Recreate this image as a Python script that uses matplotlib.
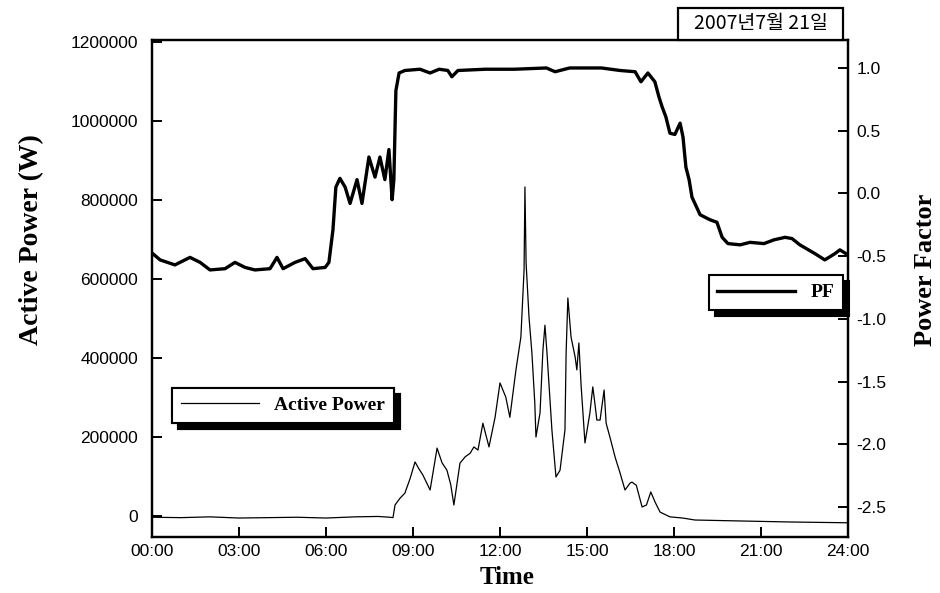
import matplotlib
matplotlib.use("Agg")
import matplotlib.pyplot as plt
from matplotlib.patches import Rectangle

# Active power (W) vs time (hours)
ap_hours = [0, 1, 2, 3, 4, 5, 6, 7, 7.8, 8.2, 8.31, 8.38, 8.55, 8.72, 8.9, 9.07, 9.2, 9.34,
            9.59, 9.83, 10.0, 10.17, 10.3, 10.41, 10.62, 10.8, 10.97, 11.1, 11.24, 11.41,
            11.62, 11.83, 12.0, 12.2, 12.34, 12.55, 12.72, 12.83, 12.86, 12.9, 13.0, 13.1,
            13.2, 13.24, 13.38, 13.48, 13.55, 13.62, 13.79, 13.93, 14.07, 14.24, 14.28,
            14.34, 14.45, 14.59, 14.65, 14.72, 14.8, 14.93, 15.1, 15.2, 15.27, 15.34, 15.45,
            15.59, 15.66, 15.79, 15.97, 16.14, 16.31, 16.48, 16.55, 16.7, 16.9, 17.05, 17.2,
            17.35, 17.52, 17.86, 18.3, 18.72, 20, 22, 24]
ap_values = [-3000, -4000, -2000, -5000, -4000, -3000, -5000, -2000, -1000, -3000, -4000,
             28000, 45000, 58000, 95000, 137000, 120000, 104000, 66000, 172000, 135000,
             116000, 80000, 28000, 134000, 150000, 159000, 175000, 167000, 235000, 175000,
             250000, 337000, 301000, 250000, 370000, 453000, 623000, 833000, 640000, 504000,
             413000, 286000, 200000, 261000, 420000, 483000, 413000, 218000, 99000, 116000,
             218000, 413000, 552000, 453000, 403000, 370000, 438000, 327000, 185000, 261000,
             327000, 286000, 243000, 243000, 319000, 235000, 200000, 149000, 109000, 66000,
             83000, 86000, 78000, 23000, 28000, 61000, 35000, 10000, -2000, -5000, -10000,
             -12000, -15000, -17000]

# Power factor vs time (hours)
pf_hours = [0, 0.28, 0.79, 1.31, 1.66, 2.0, 2.52, 2.86, 3.21, 3.55, 4.07, 4.31, 4.52, 4.93,
            5.28, 5.55, 5.97, 6.1, 6.24, 6.34, 6.48, 6.66, 6.83, 7.07, 7.24, 7.48, 7.69,
            7.86, 8.03, 8.17, 8.28, 8.34, 8.41, 8.52, 8.72, 9.24, 9.59, 9.9, 10.2, 10.34,
            10.55, 11.5, 12.5, 13.6, 13.9, 14.4, 15.5, 16.14, 16.66, 16.86, 17.1, 17.34,
            17.48, 17.59, 17.72, 17.86, 18.03, 18.21, 18.31, 18.41, 18.52, 18.62, 18.72,
            18.9, 19.24, 19.48, 19.66, 19.86, 20.28, 20.62, 21.1, 21.45, 21.83, 22.07,
            22.34, 22.86, 23.2, 23.55, 23.72, 24]
pf_values = [-0.475, -0.53, -0.57, -0.51, -0.55, -0.61, -0.60, -0.55, -0.59, -0.61, -0.60,
             -0.51, -0.60, -0.55, -0.52, -0.60, -0.59, -0.55, -0.29, 0.05, 0.12, 0.05,
             -0.08, 0.11, -0.08, 0.29, 0.13, 0.29, 0.11, 0.35, -0.05, 0.11, 0.82, 0.96,
             0.98, 0.99, 0.96, 0.99, 0.98, 0.93, 0.98, 0.99, 0.99, 1.0, 0.97, 1.0, 1.0,
             0.98, 0.97, 0.89, 0.96, 0.89, 0.77, 0.69, 0.61, 0.48, 0.47, 0.56, 0.45, 0.21,
             0.11, -0.03, -0.08, -0.17, -0.21, -0.23, -0.35, -0.40, -0.41, -0.39, -0.40,
             -0.37, -0.35, -0.36, -0.41, -0.48, -0.53, -0.48, -0.45, -0.49]

x_ticks = [0, 3, 6, 9, 12, 15, 18, 21, 24]
x_tick_labels = ["00:00", "03:00", "06:00", "09:00", "12:00", "15:00", "18:00", "21:00", "24:00"]
ap_ticks = [0, 200000, 400000, 600000, 800000, 1000000, 1200000]
pf_ticks = [-2.5, -2.0, -1.5, -1.0, -0.5, 0.0, 0.5, 1.0]

title_text = "2007년7월 21일"

SERIF = ["Liberation Serif", "DejaVu Serif"]
SANS = ["Liberation Sans", "DejaVu Sans"]

W, H = 940, 593
fig = plt.figure(figsize=(W / 100, H / 100), dpi=100)
ax = fig.add_axes([152 / W, 1 - 537 / H, 696 / W, 497 / H])
ax2 = ax.twinx()

l1, = ax.plot(ap_hours, ap_values, color="black", lw=0.9, label="Active Power")
l2, = ax2.plot(pf_hours, pf_values, color="black", lw=2.4, label="PF")

ax.set_xlim(0, 24)
ax.set_ylim(-53000, 1205000)
ax2.set_ylim(-2.739, 1.223)

ax.set_xticks(x_ticks)
ax.set_xticklabels(x_tick_labels)
ax.set_yticks(ap_ticks)
ax.set_yticklabels([str(v) for v in ap_ticks])
ax2.set_yticks(pf_ticks)
ax2.set_yticklabels([f"{v:.1f}" for v in pf_ticks])

for a in (ax, ax2):
    for s in a.spines.values():
        s.set_linewidth(1.6)
    a.tick_params(direction="in", length=7, width=1.4)
    for lab in a.get_xticklabels() + a.get_yticklabels():
        lab.set_family(SANS)
        lab.set_fontsize(12.5)
ax.tick_params(axis="x", pad=5)
ax.tick_params(axis="y", pad=10)
ax2.tick_params(axis="y", pad=6)

ax.set_xlabel("Time", family=SERIF, fontweight="bold", fontsize=18)
ax.xaxis.set_label_coords((507 - 152) / 696, (537 - 566) / 497)
ax.set_ylabel("Active Power (W)", family=SERIF, fontweight="bold", fontsize=20)
ax.yaxis.set_label_coords((44 - 152) / 696, (537 - 240) / 497)
ax2.set_ylabel("Power Factor", family=SERIF, fontweight="bold", fontsize=19)
ax2.yaxis.set_label_coords((914 - 152) / 696, (537 - 270) / 497)

shadow = {"ox": 4.5, "oy": -4.5, "color": "black", "alpha": 1}
leg1 = ax.legend(handles=[l1], loc="upper left", bbox_to_anchor=(0.029, 0.30),
                 borderaxespad=0, frameon=True, fancybox=False, shadow=shadow, framealpha=1,
                 edgecolor="black", handlelength=4.0, borderpad=0.45,
                 prop={"family": SERIF, "weight": "bold", "size": 14})
leg1.get_frame().set_linewidth(1.5)
ax.add_artist(leg1)
leg2 = ax2.legend(handles=[l2], loc="upper right", bbox_to_anchor=(0.993, 0.527),
                  borderaxespad=0, frameon=True, fancybox=False, shadow=shadow, framealpha=1,
                  edgecolor="black", handlelength=4.0, borderpad=0.45,
                  prop={"family": SERIF, "weight": "bold", "size": 14})
leg2.get_frame().set_linewidth(1.5)

# date box above the top-right of the plot
fig.patches.append(Rectangle((678 / W, 1 - 40 / H), 165 / W, 32 / H, transform=fig.transFigure,
                             facecolor="white", edgecolor="black", linewidth=1.6, zorder=5))
fig.text(761 / W, 1 - 24 / H, title_text, ha="center", va="center", zorder=6,
         family=["Noto Sans CJK KR", "DejaVu Sans"], fontsize=14)

fig.savefig("out.png", dpi=100)
